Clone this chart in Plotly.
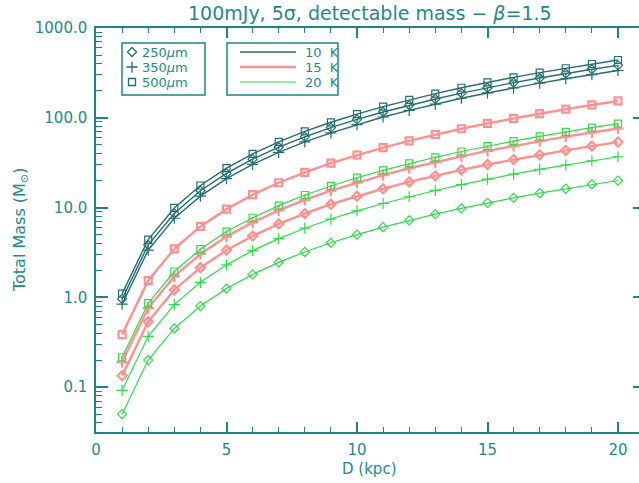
import plotly.graph_objects as go

# Distance to the source (kpc)
distance_kpc = [1, 2, 3, 4, 5, 6, 7, 8, 9, 10, 11, 12, 13, 14, 15, 16, 17, 18, 19, 20]

# Detectable total mass (solar masses) for each dust temperature / wavelength
mass_10k_250 = [0.96, 3.84, 8.6, 15.4, 24.0, 34.6, 47.0, 61.4, 77.8, 96, 116, 138, 162, 188, 216, 246, 277, 311, 347, 384]
mass_10k_350 = [0.84, 3.36, 7.6, 13.4, 21.0, 30.2, 41.2, 53.8, 68.0, 84, 102, 121, 142, 165, 189, 215, 243, 272, 303, 336]
mass_10k_500 = [1.10, 4.4, 9.9, 17.6, 27.5, 39.6, 53.9, 70.4, 89.1, 110, 133, 158, 186, 216, 248, 282, 318, 356, 397, 440]

mass_15k_250 = [0.134, 0.536, 1.21, 2.14, 3.35, 4.82, 6.57, 8.58, 10.9, 13.4, 16.2, 19.3, 22.6, 26.3, 30.2, 34.3, 38.7, 43.4, 48.4, 53.6]
mass_15k_350 = [0.19, 0.76, 1.71, 3.04, 4.75, 6.84, 9.3, 12.2, 15.4, 19.0, 23.0, 27.4, 32.1, 37.2, 42.8, 48.6, 54.9, 61.6, 68.6, 76.0]
mass_15k_500 = [0.385, 1.54, 3.47, 6.16, 9.6, 13.9, 18.9, 24.6, 31.2, 38.5, 46.6, 55.4, 65.1, 75.5, 86.6, 98.6, 111, 125, 139, 154]

mass_20k_250 = [0.050, 0.20, 0.45, 0.80, 1.25, 1.80, 2.45, 3.20, 4.05, 5.0, 6.05, 7.2, 8.45, 9.8, 11.3, 12.8, 14.5, 16.2, 18.1, 20.0]
mass_20k_350 = [0.092, 0.368, 0.83, 1.47, 2.30, 3.31, 4.51, 5.89, 7.45, 9.2, 11.1, 13.2, 15.5, 18.0, 20.7, 23.6, 26.6, 29.8, 33.2, 36.8]
mass_20k_500 = [0.215, 0.86, 1.94, 3.44, 5.4, 7.7, 10.5, 13.8, 17.4, 21.5, 26.0, 31.0, 36.3, 42.1, 48.4, 55.0, 62.1, 69.7, 77.6, 86.0]

# Axis ticks
x_major_ticks = [0, 5, 10, 15, 20]
x_minor_ticks = [1, 2, 3, 4, 6, 7, 8, 9, 11, 12, 13, 14, 16, 17, 18, 19, 21]
y_major_ticks = [0.1, 1, 10, 100, 1000]
y_major_labels = ["0.1", "1.0", "10.0", "100.0", "1000.0"]
y_minor_ticks = [m * d for d in [0.01, 0.1, 1, 10, 100] for m in range(2, 10)]

# Legend entries
wavelength_labels = ["250<i>µ</i>m", "350<i>µ</i>m", "500<i>µ</i>m"]
temperature_labels = ["10  K", "15  K", "20  K"]

AXIS = "#1e8585"
TEXT = "#238a8a"
C10 = "#246d70"
C15 = "#ff9090"
C20 = "#2fdc4a"
FONT = "DejaVu Sans"

W, H = 639, 483
L, R, T, B = 96, 639, 28, 432  # plot area in pixels


def px_x(p):
    return (p - L) / (R - L)


def px_y(p):
    return (B - p) / (B - T)


symbols = ["diamond-open", "cross-thin-open", "square-open"]
sizes = [7, 8, 7]
groups = [
    (C10, 1.4, [mass_10k_250, mass_10k_350, mass_10k_500]),
    (C15, 2.4, [mass_15k_250, mass_15k_350, mass_15k_500]),
    (C20, 1.2, [mass_20k_250, mass_20k_350, mass_20k_500]),
]

fig = go.Figure()
for color, lw, series in groups:
    for sym, sz, ys in zip(symbols, sizes, series):
        fig.add_trace(go.Scatter(
            x=distance_kpc, y=ys, mode="lines+markers",
            line=dict(color=color, width=lw),
            marker=dict(symbol=sym, size=sz, color=color,
                        line=dict(color=color, width=max(1.2, lw - 0.2))),
            showlegend=False, cliponaxis=False,
        ))

# Right-hand axis ticks (no labels)
fig.add_trace(go.Scatter(x=[None], y=[None], yaxis="y2", showlegend=False, hoverinfo="skip"))

# Legend: wavelength symbols and temperature lines, drawn on a unit overlay axis
legend_rows = [52, 67, 82]
for sym, sz, row in zip(symbols, sizes, legend_rows):
    fig.add_trace(go.Scatter(
        x=[px_x(132)], y=[px_y(row)], xaxis="x2", yaxis="y3", mode="markers",
        marker=dict(symbol=sym, size=sz, color=C10, line=dict(color=C10, width=1.3)),
        showlegend=False, cliponaxis=False, hoverinfo="skip",
    ))
for (color, lw, _), row in zip(groups, legend_rows):
    fig.add_trace(go.Scatter(
        x=[px_x(240), px_x(296)], y=[px_y(row), px_y(row)], xaxis="x2", yaxis="y3",
        mode="lines", line=dict(color=color, width=lw),
        showlegend=False, cliponaxis=False, hoverinfo="skip",
    ))

annotations = []
for label, row in zip(wavelength_labels, legend_rows):
    annotations.append(dict(x=px_x(140), y=px_y(row), xref="paper", yref="paper",
                            text=label, showarrow=False, xanchor="left", yanchor="middle",
                            font=dict(family=FONT, size=13, color=TEXT)))
for label, row in zip(temperature_labels, legend_rows):
    annotations.append(dict(x=px_x(303), y=px_y(row), xref="paper", yref="paper",
                            text=label, showarrow=False, xanchor="left", yanchor="middle",
                            font=dict(family=FONT, size=13, color=TEXT)))
annotations.append(dict(x=px_x(370), y=px_y(13), xref="paper", yref="paper",
                        text="100mJy, 5σ, detectable mass − <i>β</i>=1.5", showarrow=False,
                        xanchor="center", yanchor="middle",
                        font=dict(family=FONT, size=19, color=TEXT)))
annotations.append(dict(x=px_x(369), y=px_y(469), xref="paper", yref="paper",
                        text="D (kpc)", showarrow=False, xanchor="center", yanchor="middle",
                        font=dict(family=FONT, size=15, color=TEXT)))
annotations.append(dict(x=px_x(20), y=px_y(230), xref="paper", yref="paper",
                        text="Total Mass (M<sub>⊙</sub>)", showarrow=False, textangle=-90,
                        xanchor="center", yanchor="middle",
                        font=dict(family=FONT, size=16, color=TEXT)))

shapes = [
    dict(type="rect", xref="paper", yref="paper", x0=px_x(122), x1=px_x(205),
         y0=px_y(95), y1=px_y(43), line=dict(color=AXIS, width=1.5)),
    dict(type="rect", xref="paper", yref="paper", x0=px_x(227), x1=px_x(338),
         y0=px_y(95), y1=px_y(43), line=dict(color=AXIS, width=1.5)),
]

fig.update_layout(
    width=W, height=H,
    margin=dict(l=L, r=W - R, t=T, b=H - B, pad=0),
    paper_bgcolor="white", plot_bgcolor="white",
    showlegend=False,
    xaxis=dict(
        range=[0, (R - L) / 26.1], showgrid=False, zeroline=False,
        showline=True, linecolor=AXIS, linewidth=1.5, mirror="ticks",
        ticks="inside", tickcolor=AXIS, ticklen=10, tickwidth=1.5,
        tickvals=x_major_ticks, ticktext=[str(v) for v in x_major_ticks],
        ticklabelstandoff=3,
        minor=dict(tickvals=x_minor_ticks, ticks="inside", ticklen=5, tickcolor=AXIS, tickwidth=1.3),
        tickfont=dict(family=FONT, size=15, color=TEXT),
    ),
    yaxis=dict(
        type="log", range=[-1.5, 3.0], showgrid=False, zeroline=False,
        showline=True, linecolor=AXIS, linewidth=1.5,
        ticks="inside", tickcolor=AXIS, ticklen=12, tickwidth=1.5,
        tickvals=y_major_ticks, ticktext=y_major_labels,
        ticklabelstandoff=4,
        minor=dict(tickvals=y_minor_ticks, ticks="inside", ticklen=6, tickcolor=AXIS, tickwidth=1.3),
        tickfont=dict(family=FONT, size=15, color=TEXT),
    ),
    yaxis2=dict(
        type="log", range=[-1.5, 3.0], overlaying="y", side="right", anchor="x",
        showgrid=False, zeroline=False, showline=False, showticklabels=False,
        ticks="inside", tickcolor=AXIS, ticklen=6, tickwidth=1.5,
        tickvals=y_major_ticks,
    ),
    xaxis2=dict(overlaying="x", range=[0, 1], visible=False, fixedrange=True),
    yaxis3=dict(overlaying="y", range=[0, 1], visible=False, fixedrange=True),
    annotations=annotations,
    shapes=shapes,
)

fig.write_html("out.html")
